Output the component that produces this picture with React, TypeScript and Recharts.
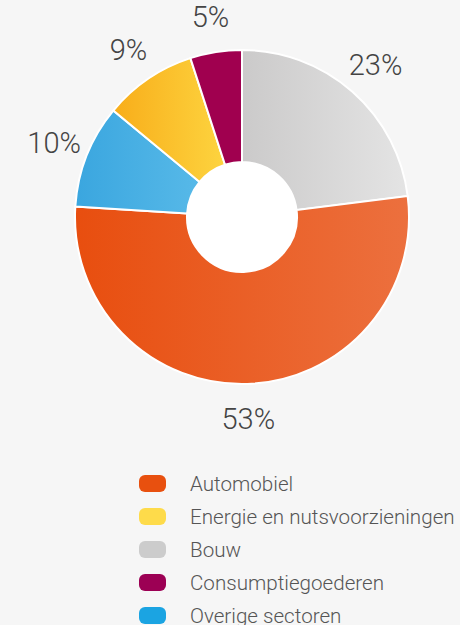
import React from 'react';
import { PieChart, Pie, Cell, Legend } from 'recharts';

const categories = ['Bouw', 'Automobiel', 'Overige sectoren', 'Energie en nutsvoorzieningen', 'Consumptiegoederen'];
const shares = [23, 53, 10, 9, 5];
const gradientFrom = ['#cbcaca', '#e84e0f', '#3aa6df', '#f8ad1a', '#a0004f'];
const gradientTo = ['#e4e4e4', '#ec703e', '#57b9e8', '#fdd43f', '#a0004f'];
const legendColors = ['#cccccc', '#e8500f', '#1ba4e2', '#fedb4a', '#9c0054'];
const legendOrder = ['Automobiel', 'Energie en nutsvoorzieningen', 'Bouw', 'Consumptiegoederen', 'Overige sectoren'];

const data = categories.map((name, i) => ({ name, value: shares[i] }));
const holeData = [{ name: '__hole', value: 1 }];

const FONT = 'Roboto, "Liberation Sans", Arial, sans-serif';
const RAD = Math.PI / 180;

const renderLabel = (props: any) => {
  const { cx, cy, midAngle, outerRadius, value } = props;
  const r = outerRadius + 35;
  const x = cx + r * Math.cos(-midAngle * RAD);
  const y = cy + r * Math.sin(-midAngle * RAD);
  return (
    <text
      x={x}
      y={y}
      textAnchor="middle"
      dominantBaseline="central"
      fill="#444444"
      fontSize={29}
      fontWeight={300}
      fontFamily={FONT}
    >
      {`${value}%`}
    </text>
  );
};

const renderLegend = () => (
  <div style={{ display: 'flex', flexDirection: 'column' }}>
    {legendOrder.map((name) => {
      const i = categories.indexOf(name);
      return (
        <div key={name} style={{ display: 'flex', alignItems: 'center', height: 33 }}>
          <div
            style={{
              width: 27,
              height: 17,
              borderRadius: 6,
              background: legendColors[i],
              marginRight: 24,
              flexShrink: 0,
            }}
          />
          <span style={{ fontFamily: FONT, fontWeight: 300, fontSize: 20.6, color: '#555555', whiteSpace: 'nowrap' }}>
            {name}
          </span>
        </div>
      );
    })}
  </div>
);

export default function App() {
  return (
    <div style={{ position: 'absolute', left: 0, top: 0, width: 460, height: 625, background: '#f6f6f6', overflow: 'hidden' }}>
      <PieChart width={460} height={625} margin={{ top: 0, right: 0, bottom: 0, left: 0 }}>
        <defs>
          {categories.map((c, i) => (
            <linearGradient key={c} id={`grad${i}`} x1="0" y1="0" x2="1" y2="0">
              <stop offset="0%" stopColor={gradientFrom[i]} />
              <stop offset="100%" stopColor={gradientTo[i]} />
            </linearGradient>
          ))}
        </defs>
        <Pie
          data={data}
          dataKey="value"
          nameKey="name"
          cx={242}
          cy={217}
          innerRadius={55}
          outerRadius={167}
          startAngle={90}
          endAngle={-270}
          stroke="#ffffff"
          strokeWidth={2}
          label={renderLabel}
          labelLine={false}
          isAnimationActive={false}
        >
          {data.map((d, i) => (
            <Cell key={d.name} fill={`url(#grad${i})`} />
          ))}
        </Pie>
        <Pie
          data={holeData}
          dataKey="value"
          cx={242}
          cy={217}
          innerRadius={0}
          outerRadius={55}
          fill="#ffffff"
          stroke="none"
          isAnimationActive={false}
          legendType="none"
        />
        <Legend
          content={renderLegend}
          wrapperStyle={{ position: 'absolute', left: 139, top: 467, width: 321, height: 165 }}
        />
      </PieChart>
    </div>
  );
}
